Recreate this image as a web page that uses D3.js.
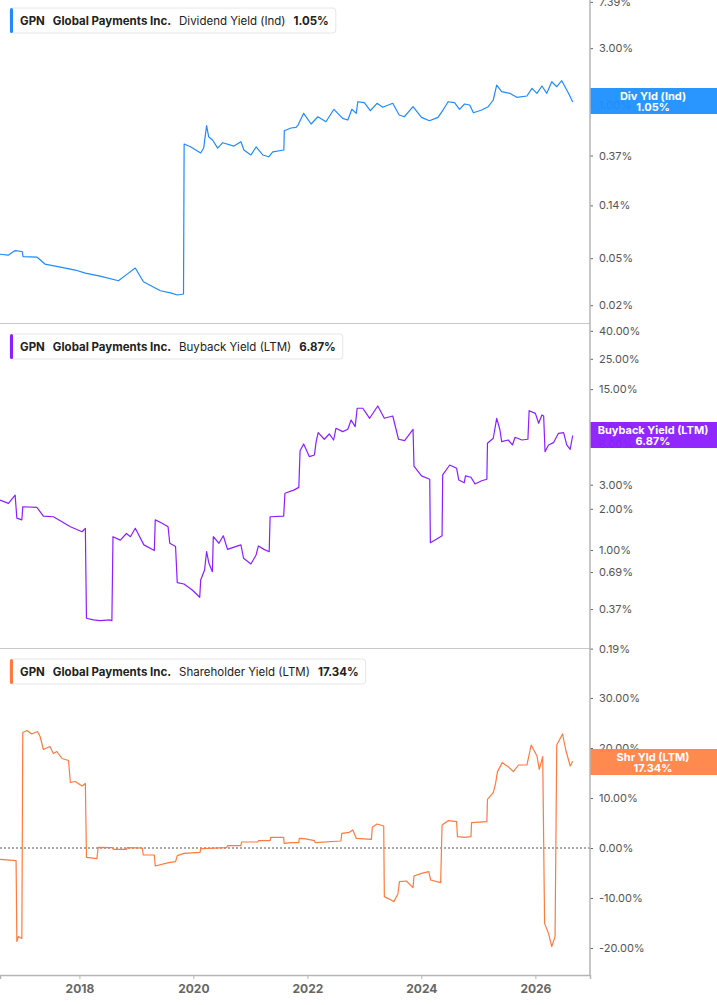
<!DOCTYPE html>
<html>
<head>
<meta charset="utf-8">
<script src="https://cdn.jsdelivr.net/npm/d3@7"></script>
<style>
  body { margin: 0; background: #fff; }
  svg { font-family: Inter, "Noto Sans", sans-serif; }
</style>
</head>
<body>
<svg id="chart" width="717" height="1005"></svg>
<script>
// ticker / company
var ticker = "GPN", company = "Global Payments Inc.";

// Dividend Yield (Ind), %
var divDates = ["2016-08-10","2016-10-01","2016-11-15","2016-12-30","2017-01-05","2017-04-05","2017-05-25","2017-09-01","2017-12-05","2018-02-08","2018-05-13","2018-09-08","2018-11-11","2018-12-25","2019-02-15","2019-06-04","2019-08-07","2019-09-21","2019-10-30","2019-11-03","2019-12-14","2020-02-17","2020-03-07","2020-03-26","2020-04-08","2020-05-03","2020-06-05","2020-07-07","2020-09-17","2020-11-01","2020-11-20","2021-01-04","2021-02-06","2021-03-21","2021-04-28","2021-05-24","2021-08-03","2021-08-06","2021-09-18","2021-10-20","2021-11-02","2021-12-08","2022-01-25","2022-03-09","2022-04-30","2022-06-20","2022-08-15","2022-09-17","2022-10-13","2022-11-10","2022-11-20","2023-01-01","2023-02-08","2023-03-23","2023-04-29","2023-07-02","2023-08-12","2023-09-14","2023-11-09","2024-01-02","2024-02-22","2024-04-17","2024-05-19","2024-06-21","2024-08-01","2024-09-02","2024-10-04","2024-11-06","2024-11-30","2025-01-22","2025-03-05","2025-04-06","2025-04-28","2025-05-30","2025-07-20","2025-09-04","2025-11-08","2025-12-10","2026-01-11","2026-02-12","2026-03-15","2026-04-16","2026-05-18","2026-06-19","2026-07-21","2026-08-10","2026-08-28"];
var divValues = [0.054,0.053,0.058,0.057,0.0515,0.051,0.0446,0.042,0.0397,0.0374,0.0353,0.0322,0.0374,0.0413,0.0316,0.0265,0.0254,0.0244,0.0249,0.463,0.439,0.389,0.428,0.662,0.534,0.501,0.428,0.475,0.445,0.484,0.412,0.374,0.437,0.374,0.361,0.398,0.412,0.600,0.633,0.640,0.670,0.842,0.684,0.788,0.715,0.911,0.764,0.739,0.911,0.842,1.056,1.036,0.886,1.024,0.947,1.024,0.815,0.788,0.958,0.779,0.729,0.779,0.898,1.056,1.036,0.911,1.010,0.990,0.852,0.898,0.958,1.092,1.462,1.284,1.244,1.151,1.180,1.371,1.244,1.434,1.244,1.560,1.415,1.590,1.327,1.180,1.05];

// Buyback Yield (LTM), %
var bbDates = ["2016-08-10","2016-10-03","2016-11-15","2016-11-26","2016-12-28","2017-01-03","2017-04-03","2017-05-15","2017-07-18","2017-09-11","2017-11-04","2018-01-18","2018-02-08","2018-02-15","2018-04-01","2018-05-13","2018-07-17","2018-07-28","2018-08-04","2018-09-20","2018-10-29","2018-11-24","2018-12-25","2019-02-18","2019-04-26","2019-05-02","2019-06-15","2019-07-23","2019-08-03","2019-09-09","2019-09-20","2019-11-02","2019-12-25","2020-02-11","2020-02-17","2020-03-13","2020-03-26","2020-04-10","2020-05-02","2020-05-08","2020-06-13","2020-07-11","2020-08-07","2020-09-18","2020-11-01","2020-11-18","2021-01-04","2021-02-06","2021-02-21","2021-03-29","2021-05-01","2021-05-07","2021-08-02","2021-08-10","2021-10-09","2021-11-07","2021-11-15","2021-12-08","2022-01-14","2022-02-15","2022-02-26","2022-03-11","2022-04-19","2022-05-21","2022-06-18","2022-07-03","2022-08-15","2022-09-17","2022-10-08","2022-11-03","2022-11-16","2022-12-22","2023-02-04","2023-03-28","2023-05-09","2023-07-02","2023-08-08","2023-09-16","2023-11-09","2023-11-15","2024-01-02","2024-02-24","2024-02-28","2024-04-17","2024-05-13","2024-05-17","2024-07-01","2024-08-14","2024-08-28","2024-10-02","2024-10-10","2024-11-14","2024-12-10","2025-01-22","2025-02-24","2025-02-28","2025-04-06","2025-04-28","2025-05-18","2025-05-30","2025-07-11","2025-08-07","2025-08-24","2025-10-06","2025-11-14","2025-11-22","2026-01-01","2026-01-22","2026-02-12","2026-02-23","2026-03-04","2026-03-26","2026-04-27","2026-05-29","2026-07-01","2026-07-21","2026-08-12","2026-08-28"];
var bbValues = [2.32,2.19,2.52,1.71,1.66,2.07,2.05,1.77,1.75,1.61,1.48,1.36,1.44,0.317,0.308,0.304,0.308,0.304,1.25,1.18,1.32,1.25,1.44,1.09,0.99,1.66,1.57,1.48,1.12,1.06,0.577,0.564,0.510,0.451,0.604,0.714,0.972,0.799,0.694,1.25,1.12,1.27,1.01,1.05,1.09,0.870,0.790,0.919,1.07,1.01,0.97,1.75,1.77,2.60,2.75,2.87,5.32,5.96,4.81,4.95,6.19,7.21,6.45,7.05,6.37,7.76,7.33,7.63,8.92,7.97,10.87,10.87,9.18,11.29,9.18,9.54,6.45,6.30,7.63,4.11,3.48,3.29,1.13,1.22,1.27,3.54,4.18,3.96,3.25,3.10,3.48,3.40,3.04,3.21,3.29,6.03,6.56,9.18,7.63,6.19,6.37,5.86,6.67,6.37,6.45,10.43,9.98,8.44,9.71,9.54,5.23,5.86,6.09,7.13,7.21,5.86,5.45,6.87];

// Shareholder Yield (LTM), %
var shDates = ["2016-08-10","2016-11-21","2016-11-26","2016-12-06","2016-12-28","2017-01-03","2017-01-30","2017-03-01","2017-04-07","2017-04-24","2017-05-15","2017-06-26","2017-07-18","2017-08-09","2017-09-11","2017-10-23","2017-11-04","2017-12-05","2018-01-18","2018-02-08","2018-02-15","2018-04-23","2018-05-01","2018-07-28","2018-08-08","2018-10-29","2018-11-03","2019-02-08","2019-02-14","2019-04-26","2019-05-02","2019-07-27","2019-09-09","2019-09-20","2019-11-02","2020-02-13","2020-02-17","2020-08-02","2020-08-07","2020-11-01","2020-11-05","2021-02-17","2021-02-21","2021-05-07","2021-05-11","2021-08-02","2021-08-05","2021-09-18","2021-11-07","2021-11-10","2021-12-12","2022-02-15","2022-02-20","2022-08-04","2022-08-09","2022-09-27","2022-10-19","2022-11-10","2023-02-15","2023-02-21","2023-03-23","2023-05-05","2023-05-09","2023-06-21","2023-07-09","2023-08-04","2023-08-14","2023-09-27","2023-11-09","2023-11-15","2024-01-02","2024-02-18","2024-03-01","2024-05-04","2024-05-13","2024-06-21","2024-08-14","2024-08-20","2024-10-06","2024-11-14","2024-11-18","2025-02-24","2025-02-28","2025-04-06","2025-04-21","2025-05-03","2025-06-03","2025-07-11","2025-08-13","2025-09-15","2025-11-08","2025-12-05","2026-01-11","2026-01-26","2026-02-17","2026-03-01","2026-03-26","2026-04-16","2026-05-07","2026-05-18","2026-06-24","2026-07-15","2026-08-12","2026-08-28"];
var shValues = [-2.27,-2.53,-18.7,-17.7,-18.1,23.1,23.5,22.8,23.3,22.3,19.7,20.3,18.9,19.3,17.9,17.5,13.1,13.3,12.4,12.9,-1.87,-2.13,0.13,0.07,-0.27,-0.27,0.07,0.0,-1.4,-1.4,-3.6,-2.93,-2.73,-1.53,-1.07,-0.87,-0.13,0.07,0.47,0.47,1.2,1.2,1.47,1.47,2.13,2.13,0.93,1.07,1.07,1.93,1.87,1.47,1.07,1.4,2.93,3.13,3.6,1.93,1.73,4.13,4.8,4.4,-9.73,-10.4,-10.73,-9.2,-6.73,-6.6,-7.93,-5.6,-5.07,-4.73,-6.4,-6.93,4.6,5.47,5.27,2.27,2.13,2.27,5.07,5.27,9.73,11.07,12.93,15.27,17.07,16.27,15.27,16.6,16.6,20.6,18.4,15.73,18.27,-15.07,-17.07,-19.73,-17.73,20.6,22.8,19.6,16.4,17.34];

// tick labels
var divTicks = [0.02, 0.05, 0.14, 0.37, 1, 3, 7.39];
var bbTicks = [0.19, 0.37, 0.69, 1, 2, 3, 6, 8, 15, 25, 40];
var shTicks = [-20, -10, 0, 10, 20, 30];
var yearTicks = [2018, 2020, 2022, 2024, 2026];

var axisX = 590;
var svg = d3.select("#chart");
var parse = d3.timeParse("%Y-%m-%d");

var x = d3.scaleTime()
    .domain([parse("2016-08-10"), parse("2026-12-17")])
    .range([0, axisX]);

var panels = [
  {dates: divDates, values: divValues, ticks: divTicks, log: true, domain: [0.01414, 7.67], range: [323, 0],
   color: "#1f8bff", box: "#1e8fff", metric: "Dividend Yield (Ind)", short: "Div Yld (Ind)", legendY: 8, boxY: 88},
  {dates: bbDates, values: bbValues, ticks: bbTicks, log: true, domain: [0.192, 44.9], range: [648, 324],
   color: "#8c1eff", box: "#8a1cff", metric: "Buyback Yield (LTM)", short: "Buyback Yield (LTM)", legendY: 334, boxY: 422},
  {dates: shDates, values: shValues, ticks: shTicks, log: false, domain: [-25.4, 39.6], range: [975, 650],
   color: "#ff7a3d", box: "#ff8447", metric: "Shareholder Yield (LTM)", short: "Shr Yld (LTM)", legendY: 659, boxY: 749}
];

var fmt = function(v) { return v.toFixed(2) + "%"; };

panels.forEach(function(p, i) {
  var y = (p.log ? d3.scaleLog() : d3.scaleLinear()).domain(p.domain).range(p.range);
  var data = p.dates.map(function(d, k) { return {date: parse(d), value: p.values[k]}; });

  // zero line for the linear panel
  if (!p.log) {
    svg.append("line")
        .attr("x1", 0).attr("x2", axisX)
        .attr("y1", y(0)).attr("y2", y(0))
        .attr("stroke", "#555").attr("stroke-dasharray", "2,2");
  }

  // panel separators
  if (i < 2) {
    svg.append("line")
        .attr("x1", 0).attr("x2", axisX)
        .attr("y1", p.range[0] + 0.5).attr("y2", p.range[0] + 0.5)
        .attr("stroke", "#c8c8c8");
  }

  var line = d3.line()
      .x(function(d) { return x(d.date); })
      .y(function(d) { return y(d.value); });

  svg.append("path")
      .datum(data)
      .attr("fill", "none")
      .attr("stroke", p.color)
      .attr("stroke-width", 1.2)
      .attr("stroke-linejoin", "round")
      .attr("d", line);

  // right axis
  var ax = svg.append("g")
      .attr("transform", "translate(" + axisX + ",0)")
      .call(d3.axisRight(y).tickValues(p.ticks).tickFormat(fmt).tickSize(3).tickPadding(6));
  ax.select(".domain").remove();
  ax.selectAll(".tick line").attr("stroke", "#666");
  ax.selectAll(".tick text")
      .attr("fill", "#555")
      .style("font-size", "11px")
      .style("font-family", "Inter, sans-serif");

  // legend
  var lg = svg.append("g").attr("transform", "translate(10," + p.legendY + ")");
  var bg = lg.append("rect")
      .attr("y", 0).attr("height", 25).attr("rx", 3)
      .attr("fill", "#fff").attr("stroke", "#e6e6e6");
  lg.append("rect").attr("width", 3).attr("height", 25).attr("rx", 1.5).attr("fill", p.color);
  var parts = [
    {t: ticker, w: 700},
    {t: company, w: 700},
    {t: p.metric, w: 400},
    {t: fmt(p.values[p.values.length - 1]), w: 700}
  ];
  var cx = 10;
  parts.forEach(function(pt) {
    var t = lg.append("text")
        .attr("x", cx).attr("y", 17)
        .attr("fill", "#222")
        .style("font-size", "11.5px")
        .style("font-weight", pt.w)
        .text(pt.t);
    cx += t.node().getComputedTextLength() + 8;
  });
  bg.attr("width", cx - 1);

  // value box on the axis
  var vb = svg.append("g").attr("transform", "translate(" + axisX + "," + p.boxY + ")");
  vb.append("rect").attr("width", 717 - axisX).attr("height", 26)
      .attr("fill", p.box).attr("opacity", 0.95);
  vb.append("text").attr("x", 63).attr("y", 11.5)
      .attr("text-anchor", "middle").attr("fill", "#fff")
      .style("font-size", "11px").style("font-weight", 700)
      .text(p.short);
  vb.append("text").attr("x", 63).attr("y", 23)
      .attr("text-anchor", "middle").attr("fill", "#fff")
      .style("font-size", "11px").style("font-weight", 700)
      .text(fmt(p.values[p.values.length - 1]));
});

// vertical axis line
svg.append("line")
    .attr("x1", axisX).attr("x2", axisX)
    .attr("y1", 0).attr("y2", 975)
    .attr("stroke", "#b5b5b5").attr("stroke-width", 1.5);

// bottom time axis
var xa = svg.append("g")
    .attr("transform", "translate(0,975)")
    .call(d3.axisBottom(x)
      .tickValues(yearTicks.map(function(yr) { return new Date(yr, 0, 1); }))
      .tickFormat(d3.timeFormat("%Y"))
      .tickSize(4).tickPadding(5));
xa.select(".domain").attr("stroke", "#b5b5b5").attr("stroke-width", 1.5);
xa.selectAll(".tick line").attr("stroke", "#b5b5b5");
xa.selectAll(".tick text")
    .attr("fill", "#666")
    .style("font-size", "12px")
    .style("font-weight", 700)
    .style("font-family", "Inter, sans-serif");
</script>
</body>
</html>
